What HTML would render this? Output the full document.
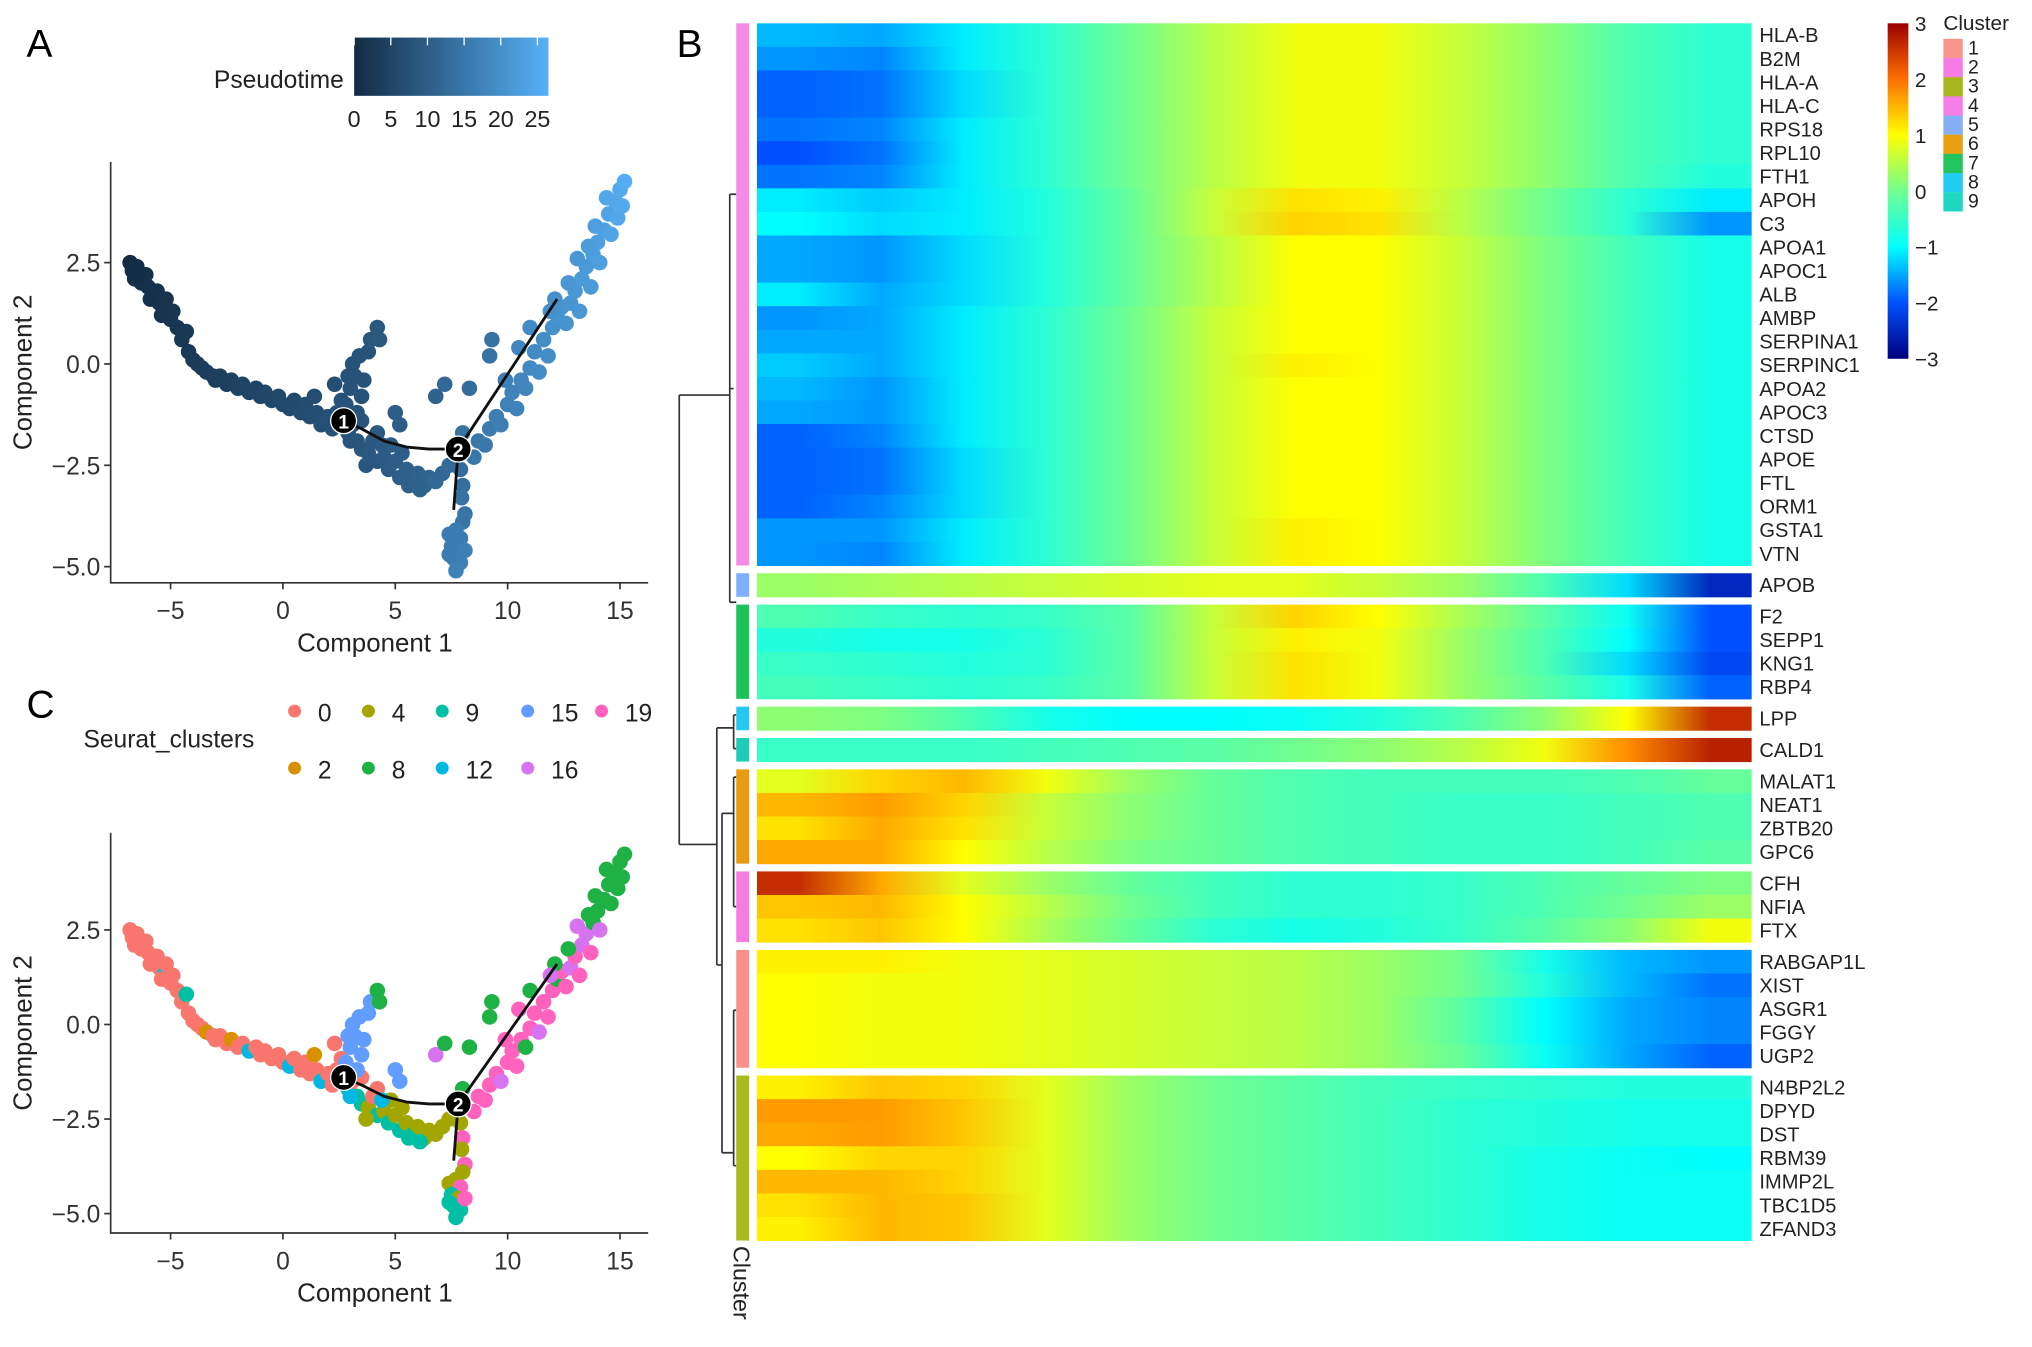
<!DOCTYPE html>
<html><head><meta charset="utf-8"><style>
html,body{margin:0;padding:0;background:#fff;}
svg{display:block;font-family:"Liberation Sans",Arial,sans-serif;}
</style></head><body>
<svg id="fig" width="2032" height="1347" viewBox="0 0 1568 1040" xmlns="http://www.w3.org/2000/svg">
<rect width="1568" height="1040" fill="#fff"/>
<defs>
<linearGradient id="ptgrad" x1="0" x2="1" y1="0" y2="0"><stop offset="0" stop-color="#132B43"/><stop offset="1" stop-color="#56B1F7"/></linearGradient>
<linearGradient id="hmgrad" x1="0" x2="0" y1="1" y2="0">
<stop offset="0" stop-color="#00007F"/><stop offset="0.1667" stop-color="#0050FF"/><stop offset="0.3333" stop-color="#00FFFF"/><stop offset="0.5" stop-color="#70FF90"/><stop offset="0.6667" stop-color="#FFFF00"/><stop offset="0.8333" stop-color="#FF7000"/><stop offset="1" stop-color="#9B0000"/></linearGradient>
</defs>
<g id="panelA">
<text x="20" y="44" font-size="30">A</text>
<text x="265" y="68" font-size="19" text-anchor="end" fill="#222">Pseudotime</text>
<rect x="273" y="29" width="150" height="45" fill="url(#ptgrad)"/>
<g id="ptticks" font-size="18" fill="#222" text-anchor="middle"></g>
<g id="scA"></g>
</g>
<g id="panelC">
<text x="20" y="554" font-size="30">C</text>
<text x="64" y="577" font-size="19" fill="#222">Seurat_clusters</text>
<g id="clLegend" font-size="19" fill="#222"></g>
<g id="scC"></g>
</g>
<g id="panelB">
<text x="522" y="44" font-size="30">B</text>
<g id="dendro" stroke="#333" stroke-width="1.3" fill="none">
<path d="M524 305 V652 M524 305 H563 M524 652 H553 M563 150 V465 M563 150 H568 M563 465 H568 M563 300 H566 M553 562 V745 M553 562 H566 M566 552 V578 M566 552 H568 M566 578 H568 M553 745 H557 M557 628 V890 M557 628 H566 M557 890 H566 M566 600 V700 M566 600 H568 M566 700 H568 M566 780 V900 M566 780 H568 M566 900 H568"/>
</g>
<g id="heat"></g>
<text transform="translate(566,962) rotate(90)" font-size="18" fill="#222">Cluster</text>
<rect x="1457" y="18" width="16" height="259" fill="url(#hmgrad)"/>
<g id="hmticks" font-size="16" fill="#222"></g>
<text x="1500" y="23" font-size="16" fill="#222">Cluster</text>
<g id="annLegend" font-size="15" fill="#222"></g>
</g>
</svg>
<script>
const NS='http://www.w3.org/2000/svg';
function mk(tag,parent,attrs){const e=document.createElementNS(NS,tag);for(const k in attrs)e.setAttribute(k,attrs[k]);parent.appendChild(e);return e;}

// ---------- Scatter data (cells): x, y, pseudotime, seurat cluster ----------
const cellX=[-6.8,-6.7,-6.5,-6.6,-6.3,-6.1,-6.0,-5.8,-5.6,-5.5,-5.3,-5.2,-5.0,-4.9,-4.7,-4.5,-4.3,-4.2,-4.0,-3.8,-3.6,-3.4,-3.1,-3.0,-2.8,-2.5,-2.3,-2.0,-1.8,-1.5,-1.2,-1.0,-0.8,-0.5,-0.2,0.0,0.3,0.5,0.8,1.0,1.2,1.5,1.7,2.0,2.2,2.4,2.3,2.6,2.9,3.1,3.3,3.5,1.4,-6.4,-5.9,-5.4,
2.8,3.0,3.2,3.1,3.4,3.6,3.8,3.9,3.5,4.2,4.3,3.3,2.9,
3.5,3.8,4.0,4.2,4.5,4.7,5.0,5.2,5.5,5.8,6.0,6.3,6.5,6.8,7.1,7.4,4.8,5.3,5.6,6.1,4.2,4.4,3.0,3.7,
5.0,5.2,6.8,7.2,8.3,9.2,9.3,8.0,
7.9,8.0,7.95,8.1,8.0,
7.4,7.7,7.9,7.5,7.8,7.6,7.9,7.7,7.4,8.1,
8.5,8.7,9.0,9.2,9.5,9.7,10.0,10.2,10.4,10.6,10.8,11.0,11.2,11.4,11.6,11.8,12.0,12.2,12.4,12.6,12.8,13.0,13.2,13.3,13.5,13.7,13.8,14.0,14.1,14.3,14.5,14.6,14.8,15.0,15.2,14.9,14.4,15.1,13.9,13.6,12.1,11.9,11.0,10.5,9.9,12.7,13.1];
const cellY=[2.5,2.3,2.4,2.1,2.0,2.2,1.9,1.7,1.8,1.5,1.3,1.6,1.1,1.3,0.9,0.6,0.8,0.3,0.1,0.0,-0.1,-0.2,-0.3,-0.4,-0.3,-0.5,-0.4,-0.6,-0.5,-0.7,-0.6,-0.8,-0.7,-0.9,-0.8,-1.0,-1.1,-0.9,-1.2,-1.0,-1.3,-1.2,-1.5,-1.3,-1.6,-1.2,-0.5,-0.9,-1.7,-1.5,-1.9,-1.4,-0.8,2.2,1.6,1.2,
-1.0,-0.6,-0.3,0.0,0.2,-0.4,0.3,0.6,-0.8,0.9,0.6,-1.2,-0.3,
-2.1,-2.2,-1.9,-2.4,-2.3,-2.6,-2.4,-2.8,-2.6,-2.9,-2.7,-3.0,-2.8,-2.9,-2.7,-2.5,-2.0,-2.2,-3.0,-3.1,-1.7,-2.0,-1.9,-2.5,
-1.2,-1.5,-0.8,-0.5,-0.6,0.2,0.6,-1.7,
-2.6,-3.0,-3.3,-3.7,-3.9,
-4.2,-4.1,-4.3,-4.5,-4.6,-4.8,-4.9,-5.1,-4.7,-4.6,
-2.3,-1.9,-2.0,-1.6,-1.3,-1.5,-1.0,-0.7,-1.1,-0.4,-0.6,-0.1,0.3,-0.2,0.6,0.2,0.9,1.2,1.4,1.0,1.5,1.8,1.3,2.1,2.4,1.9,2.7,3.0,2.5,3.3,3.7,3.2,4.0,4.3,4.5,3.6,4.1,3.9,3.4,2.9,1.6,1.3,0.9,0.4,-0.4,2.0,2.6];
const cellTime=[0,0.3,0.3,0.5,0.8,0.8,1,1.2,1.2,1.5,1.7,1.6,2,2,2.3,2.5,2.5,2.8,3,3.2,3.4,3.5,3.7,3.8,4,4.2,4.3,4.5,4.7,5,5.1,5.3,5.4,5.6,5.8,6,6.1,6.2,6.5,6.6,6.8,7,7.1,7.3,7.5,7.6,7,7.8,8,8.1,8.3,8.3,6.8,0.5,1.1,1.6,
8,8,8,8,8,8,8,8.5,8,9,9,8,8,
8.5,9,9,9,9.5,9.7,10,10,10.5,10.7,11,11,11.5,12,12,12.5,9.8,10,10.5,11,9.2,9.3,8.2,8.8,
10,10,11,12,13,14,14,14,
13,13.5,14,14.5,14.5,
16,16,16,16,16,16.5,16.5,17,16,16.5,
15,15,15.5,16,16.5,16.5,17,17.5,17.5,18,18,18.5,19,19,19.5,19.5,20,20.5,20.5,20.5,21,21.5,21.5,22,22,22,22.5,23,23,23.5,24,24,24.5,25,26,24.5,24.5,25,23,22.5,20,20,19,18,17,21,21.5];
const cellCluster=[0,0,0,0,0,0,0,0,0,0,12,0,0,0,0,0,9,0,0,0,0,2,0,0,0,0,2,0,0,12,0,0,0,0,0,0,12,0,0,0,0,0,12,0,0,0,0,0,9,0,9,0,2,0,0,0,
15,15,15,15,15,15,15,15,15,8,8,15,15,
9,4,0,9,4,9,4,9,4,9,4,4,4,4,4,4,4,4,9,9,0,12,12,4,
15,15,16,8,8,8,8,8,
4,19,4,19,4,
4,4,19,9,4,9,9,9,9,19,
19,19,19,19,19,16,19,19,19,19,8,19,19,16,19,19,19,8,19,19,16,19,19,16,16,19,8,8,16,8,8,8,8,8,8,8,8,8,8,8,8,16,8,19,19,8,16];

const trajMainX=[2.7,3.5,4.5,5.5,6.5,7.8];
const trajMainY=[-1.4,-1.6,-1.9,-2.05,-2.1,-2.1];
const trajUpX=[7.8,12.2], trajUpY=[-2.1,1.6];
const trajDownX=[7.8,7.6], trajDownY=[-2.1,-3.6];
const nodeX=[2.7,7.8], nodeY=[-1.4,-2.1], nodeLabel=['1','2'];

const xTicks=[-5,0,5,10,15];
const yTicks=[2.5,0,-2.5,-5];
const yTickLabels=['2.5','0.0','\u22122.5','\u22125.0'];
const xTickLabels=['\u22125','0','5','10','15'];
const ptTicks=[0,5,10,15,20,25];
const legendClusters=['0','4','9','15','19','2','8','12','16'];
const clusterColors={'0':'#F8766D','2':'#D89000','4':'#A3A500','8':'#1EB244','9':'#00BFA4','12':'#00B9E3','15':'#619CFF','16':'#D773F0','19':'#FF62BC'};

const PTMAX=26.5;
function ptColor(t){const a=[0x13,0x2B,0x43],b=[0x56,0xB1,0xF7];const f=Math.max(0,Math.min(1,t/PTMAX));return 'rgb('+a.map((v,i)=>Math.round(v+(b[i]-v)*f)).join(',')+')';}

const ptg=document.getElementById('ptticks');
ptTicks.forEach(t=>{const x=273+t/PTMAX*150;
 const l=mk('line',ptg,{x1:x,x2:x,y1:29,y2:35,stroke:'#fff','stroke-width':1});
 
 
 const tx=mk('text',ptg,{x:x,y:98});tx.textContent=t;
 
 });

function drawScatter(gid,top,yZero,yScale,colorMode,panel){
 const g=document.getElementById(gid);
 const X=v=>218+v*17.35, Y=v=>yZero-v*yScale;
 const axBottom=panel==='a'?450:952;
 const ax=mk('path',g,{d:`M85 ${top} V${axBottom} H500`,stroke:'#333','stroke-width':1.3,fill:'none'});
 
 
 xTicks.forEach((t,i)=>{const x=X(t);
  const tl=mk('line',g,{x1:x,x2:x,y1:axBottom,y2:axBottom+5,stroke:'#333','stroke-width':1.3});
  
  
  const tx=mk('text',g,{x:x,y:axBottom+28,'font-size':19,'text-anchor':'middle',fill:'#333'});tx.textContent=xTickLabels[i];
  
  });
 yTicks.forEach((t,i)=>{const y=Y(t);
  const tl=mk('line',g,{x1:80,x2:85,y1:y,y2:y,stroke:'#333','stroke-width':1.3});
  
  
  const tx=mk('text',g,{x:77,y:y+7,'font-size':19,'text-anchor':'end',fill:'#333'});tx.textContent=yTickLabels[i];
  
  });
 const xt=mk('text',g,{x:289,y:axBottom+53,'font-size':20,'text-anchor':'middle',fill:'#222'});xt.textContent='Component 1';
 
 
 const cy=(top+axBottom)/2;
 const yt=mk('text',g,{x:0,y:0,'font-size':20,'text-anchor':'middle',fill:'#222',transform:`translate(24,${cy}) rotate(-90)`});yt.textContent='Component 2';
 
 
 for(let i=0;i<cellX.length;i++){
  const c=mk('circle',g,{cx:X(cellX[i]),cy:Y(cellY[i]),r:6,fill:colorMode==='time'?ptColor(cellTime[i]):clusterColors[cellCluster[i]]});
  
  
 }
 [[trajMainX,trajMainY],[trajUpX,trajUpY],[trajDownX,trajDownY]].forEach(([xs,ys])=>{
  const d=xs.map((v,i)=>(i?'L':'M')+X(v)+' '+Y(ys[i])).join(' ');
  const p=mk('path',g,{d:d,stroke:'#111','stroke-width':2.2,fill:'none','stroke-linejoin':'round'});
  
  
 });
 nodeX.forEach((v,i)=>{
  const c=mk('circle',g,{cx:X(v),cy:Y(nodeY[i]),r:10,fill:'#000',stroke:'#fff','stroke-width':1});
  
  
  const t=mk('text',g,{x:X(v),y:Y(nodeY[i])+6,'font-size':15,'font-weight':'bold','text-anchor':'middle',fill:'#fff'});t.textContent=nodeLabel[i];
  
  
 });
}
drawScatter('scA',125,281,31.3,'time','a');
drawScatter('scC',643,791,29.2,'cluster','c');

const clg=document.getElementById('clLegend');
legendClusters.forEach((k,i)=>{const row=i<5?0:1, col=i<5?i:i-5;
 const cx=227+col*57+(col>=3?9:0), cy=row?593:549;
 const c=mk('circle',clg,{cx:cx,cy:cy,r:5,fill:clusterColors[k]});
 
 
 const t=mk('text',clg,{x:cx+18,y:cy+8});t.textContent=k;
 
 });

// ---------- Heatmap data ----------
const genes=['HLA-B','B2M','HLA-A','HLA-C','RPS18','RPL10','FTH1','APOH','C3','APOA1','APOC1','ALB','AMBP','SERPINA1','SERPINC1','APOA2','APOC3','CTSD','APOE','FTL','ORM1','GSTA1','VTN','APOB','F2','SEPP1','KNG1','RBP4','LPP','CALD1','MALAT1','NEAT1','ZBTB20','GPC6','CFH','NFIA','FTX','RABGAP1L','XIST','ASGR1','FGGY','UGP2','N4BP2L2','DPYD','DST','RBM39','IMMP2L','TBC1D5','ZFAND3'];
const blockSizes=[23,1,4,1,1,4,3,5,7];
const blockColors=['#F58AE7','#7FAFFF','#1DC25A','#26C8F0','#1ECDB6','#E89C12','#F37DE0','#F7928A','#A9BA1C'];
const expr=[
[-1.4,-1.5,-1.1,-0.6,0.0,0.5,0.9,0.9,0.6,0.2,-0.3,-0.6],
[-1.6,-1.7,-1.1,-0.6,0.0,0.5,0.9,0.9,0.6,0.2,-0.3,-0.6],
[-1.9,-1.8,-1.2,-0.6,0.0,0.5,0.9,0.9,0.6,0.2,-0.3,-0.6],
[-1.9,-1.8,-1.2,-0.6,0.0,0.5,0.9,0.9,0.6,0.2,-0.3,-0.6],
[-1.8,-1.7,-1.1,-0.6,0.0,0.5,0.9,0.9,0.6,0.2,-0.3,-0.6],
[-2.0,-1.8,-1.1,-0.6,0.0,0.5,0.9,0.9,0.6,0.2,-0.3,-0.6],
[-1.8,-1.7,-1.1,-0.6,0.0,0.5,0.9,0.9,0.6,0.2,-0.3,-0.7],
[-1.1,-1.3,-1.1,-0.7,-0.1,0.6,1.2,1.1,0.5,0.0,-0.6,-1.1],
[-1.0,-1.2,-1.1,-0.7,-0.1,0.6,1.3,1.2,0.5,0.0,-0.6,-1.6],
[-1.5,-1.6,-1.2,-0.7,-0.1,0.5,1.0,1.0,0.6,0.1,-0.4,-0.8],
[-1.5,-1.6,-1.2,-0.7,-0.1,0.5,1.0,1.0,0.6,0.1,-0.4,-0.8],
[-1.1,-1.5,-1.2,-0.7,-0.1,0.5,1.0,1.0,0.6,0.1,-0.4,-0.8],
[-1.6,-1.5,-1.1,-0.6,0.0,0.6,1.0,1.0,0.6,0.1,-0.4,-0.8],
[-1.5,-1.5,-1.1,-0.6,0.0,0.6,1.0,1.0,0.6,0.1,-0.4,-0.8],
[-1.3,-1.5,-1.1,-0.6,0.0,0.6,1.1,1.0,0.6,0.1,-0.4,-0.8],
[-1.4,-1.6,-1.1,-0.6,0.0,0.6,1.0,1.0,0.6,0.1,-0.4,-0.8],
[-1.5,-1.6,-1.1,-0.6,0.0,0.6,1.0,1.0,0.6,0.1,-0.4,-0.8],
[-1.9,-1.7,-1.1,-0.6,0.0,0.6,1.0,1.0,0.6,0.1,-0.4,-0.8],
[-1.9,-1.8,-1.2,-0.6,0.0,0.6,1.0,1.0,0.6,0.1,-0.4,-0.8],
[-1.9,-1.8,-1.2,-0.6,0.0,0.6,1.0,1.0,0.6,0.1,-0.4,-0.8],
[-1.9,-1.7,-1.2,-0.6,0.0,0.6,1.0,1.0,0.6,0.1,-0.4,-0.8],
[-1.6,-1.6,-1.1,-0.6,0.0,0.6,1.1,1.0,0.6,0.1,-0.4,-0.8],
[-1.6,-1.7,-1.1,-0.6,0.0,0.6,1.1,1.0,0.6,0.1,-0.4,-0.8],
[0.3,0.4,0.5,0.6,0.7,0.8,0.8,0.6,0.3,-0.3,-1.2,-2.5],
[-0.3,-0.5,-0.6,-0.5,-0.2,0.6,1.3,1.0,0.4,-0.2,-0.9,-2.0],
[-0.7,-0.8,-0.8,-0.6,-0.2,0.6,1.1,0.9,0.3,-0.3,-1.0,-2.0],
[-0.5,-0.6,-0.7,-0.6,-0.2,0.6,1.2,0.9,0.3,-0.3,-1.2,-2.1],
[-0.4,-0.5,-0.6,-0.5,-0.2,0.6,1.2,0.9,0.3,-0.2,-0.8,-1.9],
[0.2,0.1,-0.3,-0.8,-1.0,-1.0,-0.9,-0.7,-0.3,0.2,1.0,2.6],
[-0.5,-0.5,-0.5,-0.4,-0.3,-0.2,0.0,0.2,0.5,0.9,1.8,2.7],
[0.8,1.3,1.5,0.9,0.3,-0.1,-0.3,-0.4,-0.4,-0.4,-0.3,-0.1],
[1.5,1.7,1.3,0.6,0.2,-0.1,-0.3,-0.4,-0.5,-0.5,-0.4,-0.3],
[1.2,1.6,1.2,0.6,0.2,-0.1,-0.3,-0.4,-0.5,-0.5,-0.4,-0.3],
[1.6,1.6,1.0,0.5,0.1,-0.1,-0.3,-0.4,-0.5,-0.5,-0.4,-0.2],
[2.6,1.6,0.8,0.3,-0.1,-0.4,-0.6,-0.6,-0.5,-0.3,-0.1,0.1],
[1.4,1.5,1.0,0.5,0.0,-0.4,-0.6,-0.6,-0.5,-0.3,0.0,0.3],
[1.2,1.4,1.0,0.4,-0.1,-0.6,-0.8,-0.7,-0.5,-0.2,0.2,0.9],
[1.1,1.1,0.9,0.8,0.7,0.6,0.5,0.3,0.0,-0.8,-1.4,-1.6],
[1.0,0.9,0.9,0.8,0.7,0.6,0.5,0.3,0.0,-0.7,-1.4,-1.8],
[1.0,0.9,0.9,0.8,0.7,0.6,0.5,0.3,-0.2,-1.0,-1.5,-1.7],
[1.0,0.9,0.9,0.8,0.7,0.6,0.5,0.3,-0.2,-1.0,-1.5,-1.7],
[1.0,0.9,0.9,0.8,0.7,0.6,0.5,0.3,-0.1,-0.9,-1.5,-1.9],
[1.1,1.4,1.3,0.8,0.3,0.0,-0.2,-0.4,-0.5,-0.6,-0.7,-0.7],
[1.7,1.7,1.4,0.8,0.3,0.0,-0.2,-0.4,-0.6,-0.7,-0.8,-0.8],
[1.6,1.7,1.4,0.8,0.3,0.0,-0.2,-0.4,-0.6,-0.7,-0.8,-0.8],
[1.0,1.3,1.3,0.8,0.3,0.0,-0.2,-0.4,-0.6,-0.8,-0.9,-1.0],
[1.5,1.5,1.3,0.8,0.3,0.0,-0.2,-0.4,-0.6,-0.8,-0.9,-0.9],
[1.2,1.5,1.4,0.8,0.3,0.0,-0.2,-0.4,-0.6,-0.8,-0.9,-0.9],
[1.1,1.5,1.4,0.8,0.3,0.0,-0.2,-0.4,-0.6,-0.8,-0.9,-0.9]];
const colorbarTicks=[3,2,1,0,-1,-2,-3];
const annLabels=['1','2','3','4','5','6','7','8','9'];
const annColors=['#F8968C','#F77BE4','#A6B51A','#F57FE6','#86B0F5','#E8A010','#22C55E','#22CCF2','#20D8C0'];

const cmapStops=[[-3,[0,0,127]],[-2,[0,80,255]],[-1,[0,255,255]],[0,[112,255,144]],[1,[255,255,0]],[2,[255,112,0]],[3,[155,0,0]]];
function cmap(v){v=Math.max(-3,Math.min(3,v));for(let i=0;i<cmapStops.length-1;i++){const[a,ca]=cmapStops[i],[b,cb]=cmapStops[i+1];if(v<=b){const f=(v-a)/(b-a);return 'rgb('+ca.map((c,k)=>Math.round(c+(cb[k]-c)*f)).join(',')+')';}}return 'rgb(155,0,0)';}

const heat=document.getElementById('heat');
const defs=document.querySelector('defs');
const HX0=584,HX1=1352,ROWH=18.2,GAP=6,Y0=18;
let y=Y0,gi=0;
blockSizes.forEach((n,bi)=>{
 const ann=mk('rect',heat,{x:568,y:y,width:10,height:n*ROWH,fill:blockColors[bi]});
 
 
 for(let r=0;r<n;r++,gi++){
  const vals=expr[gi];
  const gid='rg'+gi;
  const lg=mk('linearGradient',defs,{id:gid,gradientUnits:'userSpaceOnUse',x1:HX0,x2:HX1,y1:0,y2:0});
  vals.forEach((v,i)=>{mk('stop',lg,{offset:((i+0.5)/vals.length).toFixed(4),'stop-color':cmap(v)});});
  const rr=mk('rect',heat,{x:HX0,y:y+r*ROWH,width:HX1-HX0,height:ROWH+0.4,fill:'url(#'+gid+')'});
  
  
  const t=mk('text',heat,{x:1358,y:y+r*ROWH+ROWH/2+5.5,'font-size':15.5,fill:'#222'});t.textContent=genes[gi];
  
  
 }
 y+=n*ROWH+GAP;
});

const hmt=document.getElementById('hmticks');
colorbarTicks.forEach(v=>{const ty=277-(v+3)/6*259;
 const t=mk('text',hmt,{x:1478,y:ty+6});t.textContent=v<0?'\u2212'+(-v):String(v);
 
 });

const al=document.getElementById('annLegend');
annLabels.forEach((k,i)=>{const sy=30+i*14.8;
 const r=mk('rect',al,{x:1500,y:sy,width:15,height:14.9,fill:annColors[i]});
 
 
 const t=mk('text',al,{x:1519,y:sy+12});t.textContent=k;
 
 });
</script>
</body></html>
